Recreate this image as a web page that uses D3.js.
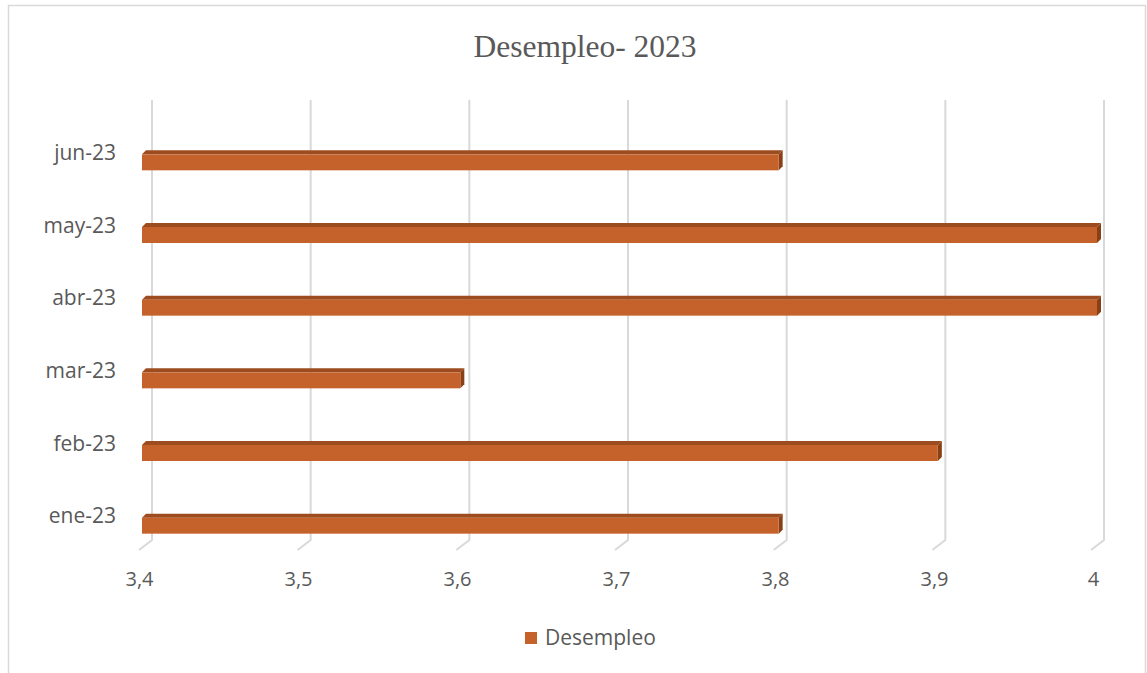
<!DOCTYPE html>
<html><head><meta charset="utf-8">
<script src="https://cdn.jsdelivr.net/npm/d3@7"></script>
<style>body{margin:0;background:#fff}svg{display:block}</style>
</head><body>
<svg id="c" width="1147" height="673"></svg>
<script>
const categories = ["ene-23","feb-23","mar-23","abr-23","may-23","jun-23"];
const values = [3.8, 3.9, 3.6, 4.0, 4.0, 3.8];
const ticks = [3.4, 3.5, 3.6, 3.7, 3.8, 3.9, 4.0];
const seriesName = "Desempleo";
const title = "Desempleo- 2023";

const svg = d3.select("#c");
const txt = "#595959", grid = "#d9d9d9";
const sans = "'Open Sans', 'Noto Sans', sans-serif";
const front = "#c5612a";

svg.append("rect").attr("x",8.5).attr("y",5.5).attr("width",1137).attr("height",700)
  .attr("fill","#fff").attr("stroke",grid).attr("stroke-width",1.5);

svg.append("text").attr("x",585).attr("y",57).attr("text-anchor","middle")
  .attr("font-family","'Liberation Serif','Times New Roman',serif").attr("font-size",31.5)
  .attr("fill",txt).text(title);

const xBack = d3.scaleLinear().domain([3.4,4.0]).range([152,1104]);
const xFront = d3.scaleLinear().domain([3.4,4.0]).range([142,1097]);
const y = d3.scaleBand().domain(categories).range([562,126]);
const dx = 4, dy = 4, bh = 16;

const g = svg.append("g");
ticks.forEach(t => {
  const xb = xBack(t);
  g.append("path").attr("d",`M${xb},100 L${xb},540 L${xb-13},550`)
    .attr("fill","none").attr("stroke",grid).attr("stroke-width",2);
});

const xLab = d3.scaleLinear().domain([3.4,4.0]).range([139,1093]);
const ax = svg.append("g").attr("transform","translate(0,569)")
  .call(d3.axisBottom(xLab).tickValues(ticks).tickSize(0)
    .tickFormat(d => d3.format(".1f")(d).replace(".",",").replace(/^4,0$/,"4")));
ax.select(".domain").remove();
ax.selectAll("text").attr("font-family",sans).attr("font-size",20).attr("fill",txt).attr("dy","0.71em");

const ay = svg.append("g").attr("transform","translate(116,-9)")
  .call(d3.axisLeft(y).tickSize(0).tickPadding(0));
ay.select(".domain").remove();
ay.selectAll("text").attr("font-family",sans).attr("font-size",21).attr("fill",txt);

const bars = svg.append("g").selectAll("g").data(categories).join("g");
bars.each(function(c,i){
  const sel = d3.select(this);
  const x0 = xFront(3.4), x1 = xFront(values[i]);
  const yc = y(c) + y.bandwidth()/2;
  const yt = yc - bh/2, yb = yc + bh/2;
  sel.append("path").attr("d",`M${x0},${yt} L${x0+dx},${yt-dy} L${x1+dx},${yt-dy} L${x1},${yt} Z`)
    .attr("fill","#9c4c1e");
  sel.append("path").attr("d",`M${x1},${yt} L${x1+dx},${yt-dy} L${x1+dx},${yb-dy} L${x1},${yb} Z`)
    .attr("fill","#8a3f15");
  sel.append("rect").attr("x",x0).attr("y",yt).attr("width",x1-x0).attr("height",bh)
    .attr("fill",front);
});

svg.append("rect").attr("x",525).attr("y",632).attr("width",12).attr("height",12).attr("fill",front);
svg.append("text").attr("x",545).attr("y",645).attr("font-family",sans).attr("font-size",21)
  .attr("fill",txt).text(seriesName);
</script>
</body></html>
